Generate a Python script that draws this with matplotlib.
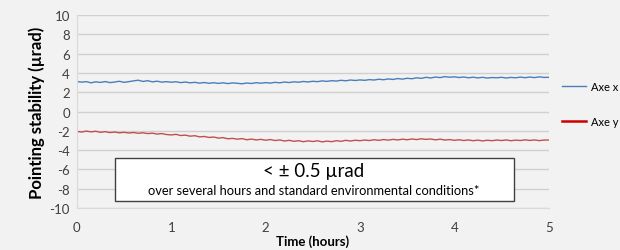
import numpy as np
import matplotlib.pyplot as plt

plt.rcParams['font.family'] = ['Lato', 'DejaVu Sans']
plt.rcParams['axes.unicode_minus'] = False

# time axis (hours) and pointing offsets (µrad)
hours = np.linspace(0, 5, 101)
axe_x = [3.12, 3.05, 3.10, 2.98, 3.08, 3.02, 3.11, 3.00, 3.06, 3.14,
         3.03, 3.10, 3.18, 3.25, 3.12, 3.20, 3.08, 3.15, 3.05, 3.10,
         3.04, 3.09, 3.00, 3.06, 2.98, 3.03, 2.95, 3.01, 2.93, 2.99,
         2.92, 2.98, 2.90, 2.97, 2.93, 2.88, 2.96, 2.91, 2.99, 2.94,
         3.00, 2.95, 3.03, 2.98, 3.06, 3.01, 3.08, 3.04, 3.12, 3.07,
         3.14, 3.10, 3.18, 3.13, 3.20, 3.16, 3.24, 3.19, 3.27, 3.22,
         3.28, 3.24, 3.31, 3.27, 3.35, 3.30, 3.38, 3.33, 3.42, 3.36,
         3.45, 3.40, 3.50, 3.44, 3.55, 3.48, 3.58, 3.52, 3.62, 3.56,
         3.60, 3.53, 3.58, 3.50, 3.56, 3.49, 3.55, 3.47, 3.53, 3.50,
         3.55, 3.48, 3.54, 3.50, 3.57, 3.51, 3.58, 3.52, 3.60, 3.54,
         3.55]
axe_y = [-2.05, -2.12, -2.02, -2.10, -2.04, -2.15, -2.08, -2.18, -2.12, -2.20,
         -2.15, -2.22, -2.17, -2.25, -2.20, -2.28, -2.24, -2.33, -2.28, -2.38,
         -2.42, -2.36, -2.48, -2.44, -2.55, -2.50, -2.62, -2.58, -2.68, -2.64,
         -2.75, -2.70, -2.82, -2.78, -2.86, -2.80, -2.92, -2.85, -2.94, -2.88,
         -2.97, -2.90, -3.00, -2.94, -3.05, -2.98, -3.08, -3.02, -3.12, -3.04,
         -3.10, -3.03, -3.14, -3.06, -3.12, -3.02, -3.08, -2.98, -3.05, -2.97,
         -3.02, -2.95, -3.00, -2.92, -2.98, -2.90, -2.96, -2.88, -2.94, -2.86,
         -2.92, -2.84, -2.90, -2.82, -2.88, -2.84, -2.93, -2.86, -2.95, -2.90,
         -2.98, -2.92, -3.00, -2.94, -3.02, -2.96, -3.04, -2.97, -3.02, -2.95,
         -3.00, -2.94, -3.02, -2.96, -3.00, -2.93, -2.99, -2.94, -3.01, -2.95,
         -2.95]
y_ticks = list(range(-10, 11, 2))
x_ticks = [0, 1, 2, 3, 4, 5]

bg = '#f2f2f2'
fig = plt.figure(figsize=(6.2, 2.51), dpi=100, facecolor=bg)
ax = fig.add_axes([0.124, 0.167, 0.761, 0.769], facecolor=bg)

ax.plot(hours, axe_x, color='#4a7ebb', lw=1.0, label='Axe x')
ax.plot(hours, axe_y, color='#c0504d', lw=1.0, label='Axe y')

ax.set_xlim(0, 5)
ax.set_ylim(-10, 10)
ax.set_yticks(y_ticks)
ax.set_xticks(x_ticks)
ax.grid(axis='y', color='#d0d0d0', lw=1)
ax.set_axisbelow(True)
for s in ['top', 'right']:
    ax.spines[s].set_visible(False)
ax.spines['left'].set_color('#d9d9d9')
ax.spines['bottom'].set_color('#d9d9d9')
ax.tick_params(length=0, labelsize=9.5, colors='#404040', pad=5)
ax.tick_params(axis='x', pad=9)

ax.set_xlabel('Time (hours)', fontsize=9.5, fontweight='bold', labelpad=1)
ax.set_ylabel('Pointing stability (µrad)', fontsize=12, fontweight='bold', labelpad=3)

# title sits mostly above the visible area, as in the source crop
fig.text(0.54, 1.012, 'Pointing stability', ha='center', va='baseline',
         fontsize=13, fontweight='bold')

# note box
ax.add_patch(plt.Rectangle((0.40, -9.25), 4.23, 4.45, facecolor='white',
                           edgecolor='#404040', lw=1, zorder=3))
ax.text(2.51, -6.15, '< ± 0.5 µrad', ha='center', va='center', fontsize=13.5, zorder=4)
ax.text(2.51, -8.1, 'over several hours and standard environmental conditions*',
        ha='center', va='center', fontsize=9.3, zorder=4)

leg = fig.legend(loc='upper left', bbox_to_anchor=(0.89, 0.715), frameon=False,
                 fontsize=8, handlelength=2.15, labelspacing=2.2, handletextpad=0.45)
leg.get_lines()[1].set_color('#cc0000')
leg.get_lines()[1].set_linewidth(1.8)

fig.savefig('out.png', dpi=100, facecolor=bg)
